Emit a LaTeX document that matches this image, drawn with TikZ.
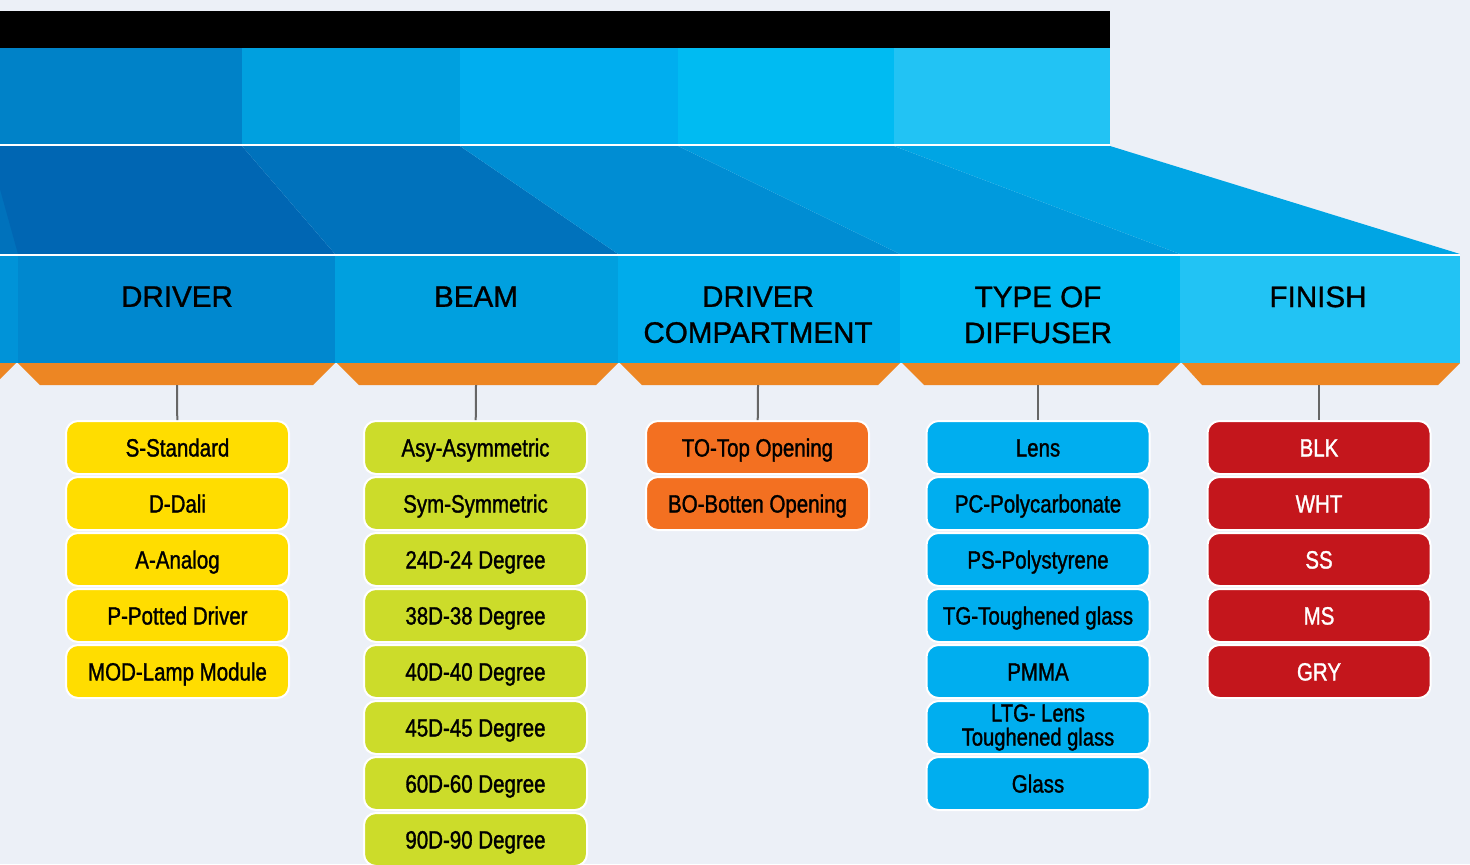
\documentclass[tikz,border=0pt]{standalone}
\usepackage{fontspec}
\setmainfont{Liberation Sans}
\newfontfamily\narrowfont[FakeStretch=0.82, FakeBold=1.2]{Liberation Sans}
\newfontfamily\headfont[FakeBold=1]{Liberation Sans}
\usetikzlibrary{positioning}

\definecolor{pagebg}{HTML}{ECF0F7}
\definecolor{topA}{HTML}{0082C8}
\definecolor{topB}{HTML}{00A0DF}
\definecolor{topC}{HTML}{00AEEF}
\definecolor{topD}{HTML}{00BBF2}
\definecolor{topE}{HTML}{22C3F4}
\definecolor{midZ}{HTML}{0072BC}
\definecolor{midA}{HTML}{0066B3}
\definecolor{midB}{HTML}{0072BC}
\definecolor{midC}{HTML}{008DD3}
\definecolor{midD}{HTML}{009ADD}
\definecolor{midE}{HTML}{00A5E4}
\definecolor{hdZ}{HTML}{0093D8}
\definecolor{hdA}{HTML}{0088CF}
\definecolor{hdB}{HTML}{00A0DF}
\definecolor{hdC}{HTML}{00ACEB}
\definecolor{hdD}{HTML}{00B9F1}
\definecolor{hdE}{HTML}{22C3F4}
\definecolor{tabor}{HTML}{ED8623}
\definecolor{yel}{HTML}{FFDD00}
\definecolor{lime}{HTML}{CCDC2A}
\definecolor{ora}{HTML}{F37021}
\definecolor{sky}{HTML}{00AEEF}
\definecolor{red}{HTML}{C4161C}

\begin{document}
\begin{tikzpicture}[x=0.5pt, y=-0.5pt,
   head/.style={anchor=north, inner sep=0pt, align=center, font=\headfont\fontsize{14.8}{18}\selectfont},
   itembase/.style={draw=white, line width=1pt, rounded corners=6pt, minimum width=111.5pt, minimum height=26.5pt, inner sep=1pt, align=center, font=\narrowfont\fontsize{12.5}{13}\selectfont},
   item/.style={itembase, text height=9pt, text depth=0pt},
   tab/.style={fill=tabor},
   link/.style={draw=black!60, line width=1pt}]
   \useasboundingbox (0,0) rectangle (1470,864);
   \fill[pagebg] (0,0) rectangle (1470,864);

   % title bar and top band
   \fill[black] (0,11) rectangle (1110,48);
   \fill[topA] (0,48) rectangle (242,144);
   \fill[topB] (242,48) rectangle (460,144);
   \fill[topC] (460,48) rectangle (678,144);
   \fill[topD] (678,48) rectangle (894,144);
   \fill[topE] (894,48) rectangle (1110,144);

   % slanted band
   \fill[midZ] (0,146) rectangle (40,254);
   \fill[midA] (-12,146) -- (242,146) -- (335,254) -- (18,254) -- cycle;
   \fill[midB] (242,146) -- (460,146) -- (618,254) -- (335,254) -- cycle;
   \fill[midC] (460,146) -- (678,146) -- (900,254) -- (618,254) -- cycle;
   \fill[midD] (678,146) -- (894,146) -- (1180,254) -- (900,254) -- cycle;
   \fill[midE] (894,146) -- (1110,146) -- (1460,254) -- (1180,254) -- cycle;
   \draw[white, line width=1pt] (0,145) -- (1110,145);
   \draw[white, line width=1pt] (0,255) -- (1460,255);

   % header row
   \fill[hdZ] (0,256) rectangle (18,363);
   \fill[hdA] (18,256) rectangle (335,363);
   \fill[hdB] (335,256) rectangle (618,363);
   \fill[hdC] (618,256) rectangle (900,363);
   \fill[hdD] (900,256) rectangle (1180,363);
   \fill[hdE] (1180,256) rectangle (1460,363);

   \node[head] (hDriver) at (177,286) {DRIVER};
   \node[head] (hBeam) at (476,286) {BEAM};
   \node[head] (hComp) at (758,286) {DRIVER\\COMPARTMENT};
   \node[head] (hDiff) at (1038,286) {TYPE OF\\DIFFUSER};
   \node[head] (hFinish) at (1318,286) {FINISH};

   % orange tabs
   \fill[tab] (-20,363) -- (16,363) -- (-6,385) -- (-20,385) -- cycle;
   \fill[tab] (18,363) -- (335,363) -- (313,385) -- (40,385) -- cycle;
   \fill[tab] (337,363) -- (618,363) -- (596,385) -- (359,385) -- cycle;
   \fill[tab] (620,363) -- (900,363) -- (878,385) -- (642,385) -- cycle;
   \fill[tab] (902,363) -- (1180,363) -- (1158,385) -- (924,385) -- cycle;
   \fill[tab] (1182,363) -- (1460,363) -- (1438,385) -- (1202,385) -- cycle;

   \coordinate (tDriver) at (177,385);
   \coordinate (tBeam) at (476,385);
   \coordinate (tComp) at (758,385);
   \coordinate (tDiff) at (1038,385);
   \coordinate (tFinish) at (1319,385);

   % driver
   \node[item, fill=yel] (d1) at (177.5,447.5) {S-Standard};
   \node[item, fill=yel] (d2) at (177.5,503.5) {D-Dali};
   \node[item, fill=yel] (d3) at (177.5,559.5) {A-Analog};
   \node[item, fill=yel] (d4) at (177.5,615.5) {P-Potted Driver};
   \node[item, fill=yel] (d5) at (177.5,671.5) {MOD-Lamp Module};

   % beam
   \node[item, fill=lime] (b1) at (475.5,447.5) {Asy-Asymmetric};
   \node[item, fill=lime] (b2) at (475.5,503.5) {Sym-Symmetric};
   \node[item, fill=lime] (b3) at (475.5,559.5) {24D-24 Degree};
   \node[item, fill=lime] (b4) at (475.5,615.5) {38D-38 Degree};
   \node[item, fill=lime] (b5) at (475.5,671.5) {40D-40 Degree};
   \node[item, fill=lime] (b6) at (475.5,727.5) {45D-45 Degree};
   \node[item, fill=lime] (b7) at (475.5,783.5) {60D-60 Degree};
   \node[item, fill=lime] (b8) at (475.5,839.5) {90D-90 Degree};

   % driver compartment
   \node[item, fill=ora] (c1) at (757.5,447.5) {TO-Top Opening};
   \node[item, fill=ora] (c2) at (757.5,503.5) {BO-Botten Opening};

   % diffuser
   \node[item, fill=sky] (f1) at (1038,447.5) {Lens};
   \node[item, fill=sky] (f2) at (1038,503.5) {PC-Polycarbonate};
   \node[item, fill=sky] (f3) at (1038,559.5) {PS-Polystyrene};
   \node[item, fill=sky] (f4) at (1038,615.5) {TG-Toughened glass};
   \node[item, fill=sky] (f5) at (1038,671.5) {PMMA};
   \node[itembase, fill=sky, font=\narrowfont\fontsize{12.3}{12}\selectfont] (f6) at (1038,727.5) {LTG- Lens\\Toughened glass};
   \node[item, fill=sky] (f7) at (1038,783.5) {Glass};

   % finish
   \node[item, fill=red, text=white] (n1) at (1319,447.5) {BLK};
   \node[item, fill=red, text=white] (n2) at (1319,503.5) {WHT};
   \node[item, fill=red, text=white] (n3) at (1319,559.5) {SS};
   \node[item, fill=red, text=white] (n4) at (1319,615.5) {MS};
   \node[item, fill=red, text=white] (n5) at (1319,671.5) {GRY};

   \draw[link] (tDriver) -- (d1);
   \draw[link] (tBeam) -- (b1);
   \draw[link] (tComp) -- (c1);
   \draw[link] (tDiff) -- (f1);
   \draw[link] (tFinish) -- (n1);
\end{tikzpicture}
\end{document}
